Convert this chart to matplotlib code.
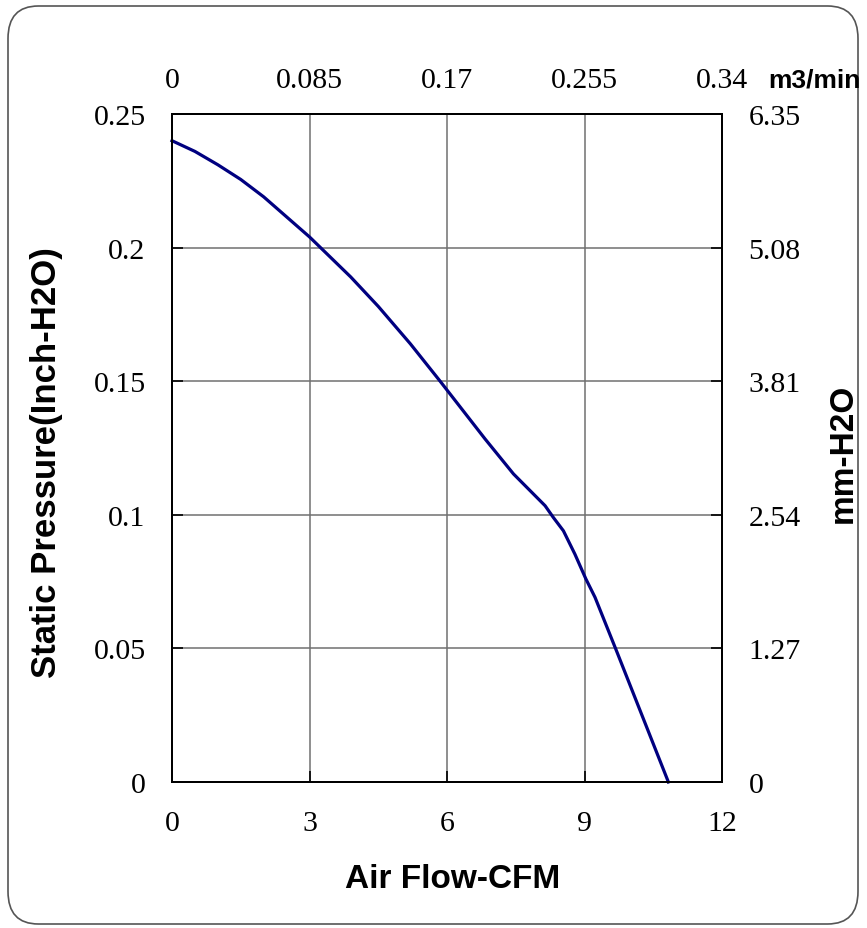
import matplotlib
matplotlib.use("Agg")
import matplotlib.pyplot as plt
from matplotlib.patches import FancyBboxPatch

# Data
cfm = [0, 0.5, 1.0, 1.5, 2.0, 3.0, 3.9, 4.5, 5.2, 5.85, 6.83, 7.45, 7.74,
       8.14, 8.32, 8.54, 8.79, 9.03, 9.23, 9.7, 10.83]
pressure_inch = [0.240, 0.236, 0.231, 0.2255, 0.219, 0.204, 0.189, 0.178,
                 0.164, 0.150, 0.1284, 0.1153, 0.1103, 0.1034, 0.0990,
                 0.0940, 0.0853, 0.0760, 0.0691, 0.0490, 0.0]

x_ticks = [0, 3, 6, 9, 12]
y_ticks = [0, 0.05, 0.1, 0.15, 0.2, 0.25]
y_tick_labels = ["0", "0.05", "0.1", "0.15", "0.2", "0.25"]
top_tick_labels = ["0", "0.085", "0.17", "0.255", "0.34"]
right_tick_labels = ["0", "1.27", "2.54", "3.81", "5.08", "6.35"]

serif = "Liberation Serif"
sans = "Liberation Sans"

W, H = 867, 929
fig = plt.figure(figsize=(W / 100, H / 100), dpi=100)
ax = fig.add_axes([172 / W, 1 - 783 / H, 550 / W, 668 / H])

ax.plot(cfm, pressure_inch, color="#000080", lw=2.3, zorder=3, clip_on=False,
        solid_joinstyle="round")
ax.set_xlim(0, 12)
ax.set_ylim(0, 0.25)
ax.set_xticks(x_ticks)
ax.set_xticklabels([str(t) for t in x_ticks])
ax.set_yticks(y_ticks)
ax.set_yticklabels(y_tick_labels)
ax.grid(True, color="#707070", lw=1.1)
for s in ax.spines.values():
    s.set_linewidth(1.4)
    s.set_color("black")
ax.tick_params(axis="both", direction="in", length=8, width=1.2,
               labelsize=21.5, colors="black")
ax.tick_params(axis="x", pad=20)
ax.tick_params(axis="y", pad=19)
for lab in ax.get_xticklabels() + ax.get_yticklabels():
    lab.set_fontfamily(serif)

# right axis (mm-H2O)
axr = ax.twinx()
axr.set_ylim(0, 6.35)
axr.set_yticks([i * 1.27 for i in range(6)])
axr.set_yticklabels(right_tick_labels)
axr.tick_params(axis="y", direction="in", length=8, width=1.2,
                labelsize=21.5, pad=19)
for lab in axr.get_yticklabels():
    lab.set_fontfamily(serif)

# top axis (m3/min)
axt = ax.twiny()
axt.set_xlim(0, 12)
axt.set_xticks(x_ticks)
axt.set_xticklabels(top_tick_labels)
axt.tick_params(axis="x", direction="in", length=0, labelsize=21.5, pad=15)
for lab in axt.get_xticklabels():
    lab.set_fontfamily(serif)

for a in (axr, axt):
    for s in a.spines.values():
        s.set_linewidth(1.4)

# labels
fig.text(453 / W, 1 - 888 / H, "Air Flow-CFM", family=sans, weight="bold",
         fontsize=24, ha="center", va="baseline")
fig.text(47 / W, 1 - 463 / H, "Static Pressure(Inch-H2O)", family=sans,
         weight="bold", fontsize=25, rotation=90, ha="center", va="center")
fig.text(843 / W, 1 - 453 / H, "mm-H2O", family=sans, weight="bold",
         fontsize=24, rotation=90, ha="center", va="center")
fig.text(768 / W, 1 - 87 / H, "m3/min", family=sans, weight="bold",
         fontsize=19, ha="left", va="baseline")

# rounded border
border = FancyBboxPatch((8 / W, 4 / H), 850 / W, 918 / H,
                        boxstyle="round,pad=0,rounding_size=0.035",
                        transform=fig.transFigure, fill=False,
                        edgecolor="#555555", lw=1.2)
fig.patches.append(border)

fig.savefig("out.png", dpi=100)
